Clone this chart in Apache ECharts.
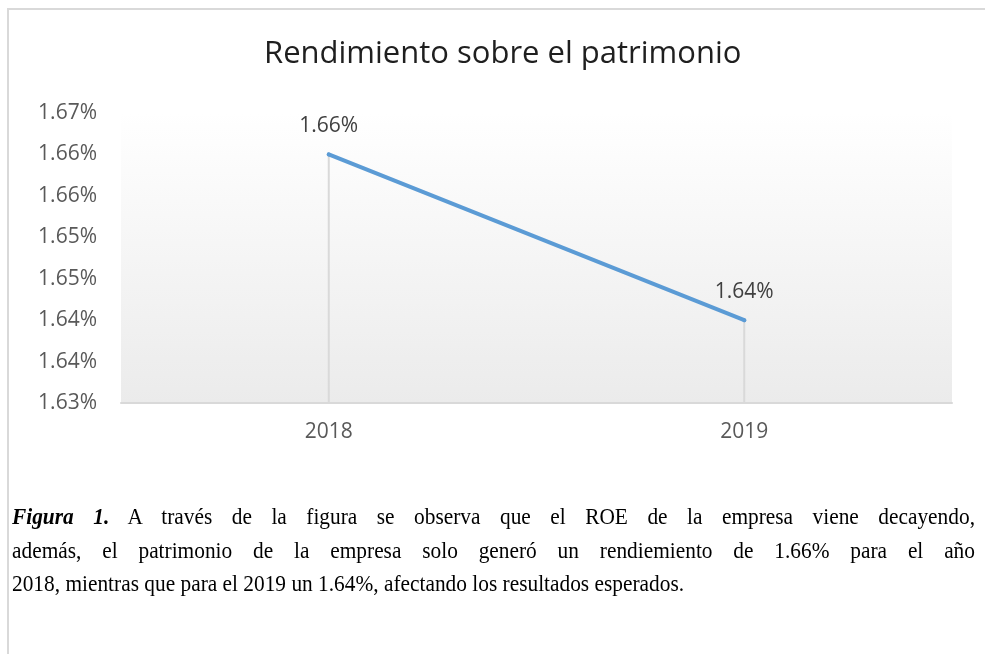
<!DOCTYPE html>
<html>
<head>
<meta charset="utf-8">
<script src="https://cdn.jsdelivr.net/npm/echarts@6/dist/echarts.min.js"></script>
<style>
  html, body { margin: 0; padding: 0; background: #fff; }
  #wrap { position: relative; width: 985px; height: 654px; overflow: hidden; }
  #frame { position: absolute; left: 7px; top: 8px; width: 985px; height: 660px;
           border-top: 2px solid #d9d9d9; border-left: 2px solid #d9d9d9; }
  #chart { position: absolute; left: 0; top: 0; width: 985px; height: 654px; }
  #caption { position: absolute; left: 12px; top: 500px; width: 1082px;
             transform: scaleX(0.89); transform-origin: 0 0;
             font-family: "Liberation Serif", "Times New Roman", serif;
             font-size: 24px; line-height: 33.5px; color: #000; }
  #caption .j { text-align: justify; text-align-last: justify; white-space: nowrap; }
</style>
</head>
<body>
<div id="wrap">
  <div id="frame"></div>
  <div id="chart"></div>
  <div id="caption">
    <div class="j"><b><i>Figura 1.</i></b> A través de la figura se observa que el ROE de la empresa viene decayendo,</div>
    <div class="j">además, el patrimonio de la empresa solo generó un rendiemiento de 1.66% para el año</div>
    <div>2018, mientras que para el 2019 un 1.64%, afectando los resultados esperados.</div>
  </div>
</div>
<script>
// datos
var years = ['2018', '2019']
var roe = [1.66, 1.64]
var yMin = 1.63
var yMax = 1.665
var yStep = 0.005

// redondeo a dos decimales (mitad hacia arriba)
function pct(v) {
  return (Math.round(Math.round(v * 1000) / 10) / 100).toFixed(2) + '%'
}

var myChart = echarts.init(document.getElementById('chart'))

var option = {
  animation: false,
  title: {
    text: 'Rendimiento sobre el patrimonio',
    left: 259,
    top: 34,
    textStyle: { fontFamily: 'Open Sans', fontSize: 31, fontWeight: 'normal', color: '#1f1f1f' }
  },
  grid: {
    left: 121, right: 33, top: 113, bottom: 251,
    show: true,
    borderWidth: 0,
    // fondo degradado del área de trazado
    backgroundColor: new echarts.graphic.LinearGradient(0, 0, 0, 1, [
      { offset: 0, color: '#ffffff' },
      { offset: 1, color: '#ebebeb' }
    ])
  },
  xAxis: {
    type: 'category',
    data: years,
    axisLine: { lineStyle: { color: '#d9d9d9', width: 2 } },
    axisTick: { show: false },
    axisLabel: { margin: 19, fontFamily: 'Open Sans', fontSize: 21, color: '#595959' }
  },
  yAxis: {
    type: 'value',
    min: yMin,
    max: yMax,
    interval: yStep,
    axisLine: { show: false },
    axisTick: { show: false },
    splitLine: { show: false },
    axisLabel: {
      margin: 24,
      fontFamily: 'Open Sans', fontSize: 21, color: '#595959',
      formatter: pct
    }
  },
  series: [
    {
      // líneas de caída
      type: 'bar',
      data: roe,
      barWidth: 2,
      silent: true,
      z: 1,
      itemStyle: { color: '#d9d9d9' }
    },
    {
      type: 'line',
      data: roe,
      z: 3,
      symbol: 'circle',
      symbolSize: 4,
      itemStyle: { color: '#5b9bd5' },
      lineStyle: { color: '#5b9bd5', width: 4, cap: 'round' },
      label: {
        show: true,
        position: 'top',
        distance: 16,
        fontFamily: 'Open Sans', fontSize: 21, color: '#404040',
        formatter: function (p) { return pct(p.value) }
      }
    }
  ]
}

myChart.setOption(option)
</script>
</body>
</html>
